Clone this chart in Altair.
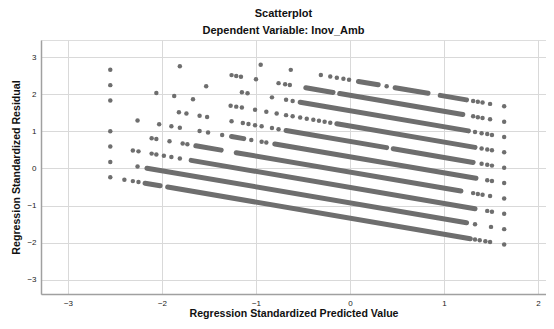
import altair as alt
import pandas as pd

# ---- data ----
x_ticks = [-3, -2, -1, 0, 1, 2]
y_ticks = [-3, -2, -1, 0, 1, 2, 3]

# residual bands (one band per observed value of the dependent variable)
band_base = -1.338    # residual of band 0 at predicted value 0
band_step = 0.4135    # distance between neighbouring bands
band_slope = -0.432   # common slope of the bands

# isolated points: predicted values where a single dot shows
band_points = {
    0: [-2.55, -2.40, -2.31, -2.25, 1.33, 1.38, 1.44, 1.49, 1.64],
    1: [-2.55, -2.26, 1.33, 1.50, 1.64],
    2: [-2.55, -2.31, -2.25, -2.11, -2.06, -1.98, -1.90, -1.81, 1.46, 1.51, 1.64],
    3: [-2.55, -2.11, -2.06, -1.92, -1.78, -1.73, 1.31, 1.36, 1.41, 1.49, 1.64],
    4: [-2.26, -2.03, -1.90, -1.81, -1.60, -1.51, -1.36, -1.05, -0.94, -0.89,
        1.46, 1.51, 1.64],
    5: [-2.55, -1.82, -1.74, -1.60, -1.52, -1.26, -1.14, -1.08, -1.01, -0.94,
        -0.83, -0.76, 1.40, 1.46, 1.51, 1.64],
    6: [-2.55, -2.06, -1.87, -1.67, -1.27, -1.21, -1.15, -1.01, -0.89, -0.78,
        -0.68, -0.61, -0.53, -0.46, -0.39, -0.33, -0.27, -0.21, 1.40, 1.46,
        1.51, 1.64],
    7: [-2.55, -1.53, -1.15, -1.09, -0.83, -0.68, -0.61, 1.33, 1.40, 1.46,
        1.51, 1.64],
    8: [-1.81, -1.26, -1.21, -1.16, -1.00, -0.76, -0.69, -0.64, 1.31, 1.36,
        1.41, 1.49, 1.64],
    9: [-0.95, -0.63, -0.31, -0.21, -0.14, -0.07, -0.01, 0.39, 1.31, 1.36,
        1.41, 1.49, 1.64],
}

# dense runs of overlapping dots: (first predicted value, last predicted value)
band_runs = {
    0: [(-2.18, -2.02), (-1.94, 1.28)],
    1: [(-2.16, 1.24)],
    2: [(-1.69, 1.33)],
    3: [(-1.64, -1.37), (-1.21, 1.18)],
    4: [(-1.26, -1.13), (-0.80, 1.34)],
    5: [(-0.68, 0.39), (0.46, 1.31)],
    6: [(-0.14, 1.33)],
    7: [(-0.53, 1.26)],
    8: [(-0.47, -0.18), (-0.11, 1.20)],
    9: [(0.09, 0.30), (0.48, 0.83), (0.96, 1.24)],
}


def resid(k, x):
    return band_base + band_step * k + band_slope * x


pt_rows = [{"pred": x, "resid": resid(k, x)}
           for k, xs in band_points.items() for x in xs]
run_rows = [{"pred": a, "pred2": b, "resid": resid(k, a), "resid2": resid(k, b)}
            for k, runs in band_runs.items() for a, b in runs]
df_pts = pd.DataFrame(pt_rows)
df_runs = pd.DataFrame(run_rows)

FONT = "Liberation Sans"
DOT = "#6e6e6e"

xscale = alt.Scale(domain=[-3.287, 2.085], nice=False, zero=False)
yscale = alt.Scale(domain=[-3.38, 3.46], nice=False, zero=False)

xaxis = alt.Axis(values=x_ticks, grid=True, ticks=False, labelFontSize=8,
                 labelPadding=5, labelColor="#222222", labelFont=FONT,
                 title="Regression Standardized Predicted Value",
                 titleFont=FONT, titleFontSize=10.6, titleFontWeight="bold",
                 titleColor="#111111", titlePadding=1, domainColor="#a0a0a0",
                 domainWidth=1.5, gridColor="#d9d9d9", format="d")
yaxis = alt.Axis(values=y_ticks, grid=True, ticks=False, labelFontSize=8,
                 labelPadding=5, labelColor="#222222", labelFont=FONT,
                 title="Regression Standardized Residual",
                 titleFont=FONT, titleFontSize=10.6, titleFontWeight="bold",
                 titleColor="#111111", titlePadding=5, domainColor="#a0a0a0",
                 domainWidth=1.5, gridColor="#d9d9d9", format="d")

points = alt.Chart(df_pts).mark_circle(size=20, color=DOT, opacity=1).encode(
    x=alt.X("pred:Q", scale=xscale, axis=xaxis),
    y=alt.Y("resid:Q", scale=yscale, axis=yaxis),
)
runs = alt.Chart(df_runs).mark_rule(strokeWidth=5, strokeCap="round", color=DOT).encode(
    x=alt.X("pred:Q", scale=xscale, axis=xaxis),
    x2="pred2:Q",
    y=alt.Y("resid:Q", scale=yscale, axis=yaxis),
    y2="resid2:Q",
)

chart = alt.layer(runs, points).properties(
    width=505,
    height=254,
    autosize="none",
    padding={"left": 33, "top": 32, "right": 0, "bottom": 27},
    title=alt.TitleParams(
        "Scatterplot",
        subtitle="Dependent Variable: Inov_Amb",
        anchor="middle",
        dx=-10,
        offset=4,
        font=FONT,
        fontSize=11,
        fontWeight="bold",
        color="#111111",
        subtitleFont=FONT,
        subtitleFontSize=11,
        subtitleFontWeight="bold",
        subtitleColor="#111111",
        subtitlePadding=6,
    ),
).configure_view(stroke=None).configure(background="white")

chart.save("out.html", embed_options={"renderer": "svg", "actions": False})
